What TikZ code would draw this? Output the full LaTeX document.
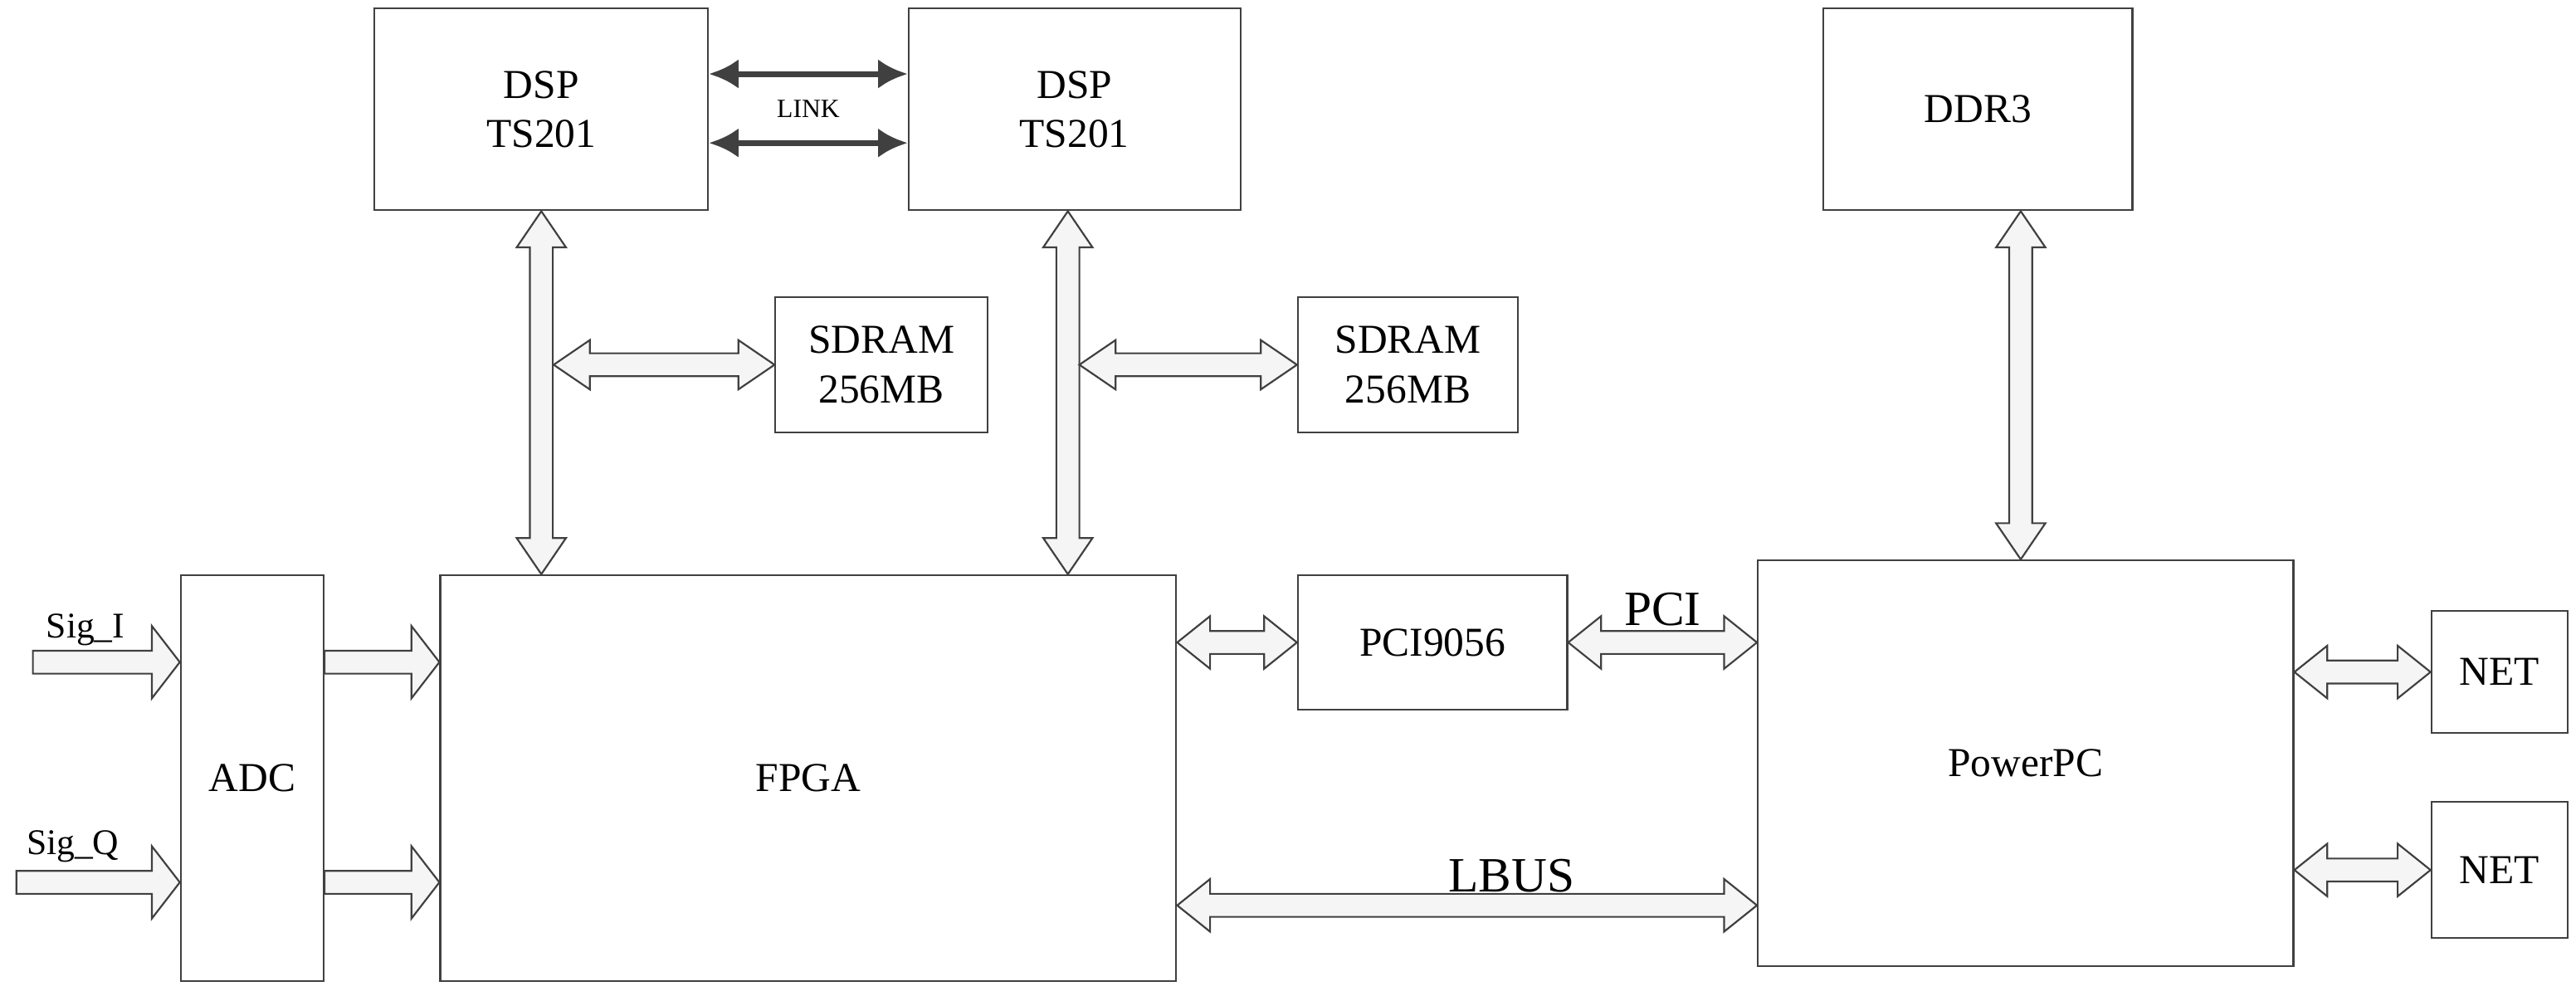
\documentclass[tikz,border=0pt]{standalone}
\usepackage{fontspec}
\setmainfont{Liberation Serif}
\usetikzlibrary{calc}
\tikzset{
  box/.style={draw=black!75, line width=1.1pt, rectangle, inner sep=0pt, align=center, font=\fontsize{25}{30}\selectfont},
  hollow/.style={draw=black!75, line width=1.1pt, fill=black!4, line join=miter},
  link/.style={draw=black!75, line width=3.5pt, -{Latex[length=18pt,width=18pt]}},
}
\usetikzlibrary{arrows.meta}
% double hollow arrow: #1 start, #2 end, #3 head half width, #4 shaft half width, #5 head length
\newcommand\dbl[5]{%
 \coordinate (q1) at (#1); \coordinate (q2) at (#2);
 \coordinate (a1) at ($(q1)!#5!(q2)$); \coordinate (a2) at ($(q2)!#5!(q1)$);
 \draw[hollow] (q1) -- ($(a1)!#3!90:(q2)$) -- ($(a1)!#4!90:(q2)$) -- ($(a2)!#4!-90:(q1)$) -- ($(a2)!#3!-90:(q1)$) -- (q2)
  -- ($(a2)!#3!90:(q1)$) -- ($(a2)!#4!90:(q1)$) -- ($(a1)!#4!-90:(q2)$) -- ($(a1)!#3!-90:(q2)$) -- cycle;}
\newcommand\sgl[5]{%
 \coordinate (q1) at (#1); \coordinate (q2) at (#2);
 \coordinate (a2) at ($(q2)!#5!(q1)$);
 \draw[hollow] ($(q1)!#4!-90:(q2)$) -- ($(a2)!#4!90:(q1)$) -- ($(a2)!#3!90:(q1)$) -- (q2)
  -- ($(a2)!#3!-90:(q1)$) -- ($(a2)!#4!-90:(q1)$) -- ($(q1)!#4!90:(q2)$) -- cycle;}
\begin{document}
\begin{tikzpicture}[x=1pt,y=-1pt]
\useasboundingbox (0,0) rectangle (1568,609);
% boxes
\node[box, minimum width=203pt, minimum height=123pt] (dsp1) at (329.5,66.5) {DSP\\TS201};
\node[box, minimum width=202pt, minimum height=123pt] (dsp2) at (654,66.5) {DSP\\TS201};
\node[box, minimum width=188pt, minimum height=123pt] (ddr) at (1204,66.5) {DDR3};
\node[box, minimum width=129pt, minimum height=82pt] (sd1) at (536.5,222) {SDRAM\\256MB};
\node[box, minimum width=134pt, minimum height=82pt] (sd2) at (857,222) {SDRAM\\256MB};
\node[box, minimum width=87pt, minimum height=247pt] (adc) at (153.5,473.5) {ADC};
\node[box, minimum width=448pt, minimum height=247pt] (fpga) at (492,473.5) {FPGA};
\node[box, minimum width=164pt, minimum height=82pt] (pci) at (872,391) {PCI9056};
\node[box, minimum width=326pt, minimum height=247pt] (ppc) at (1233,464.5) {PowerPC};
\node[box, minimum width=83pt, minimum height=74pt] (net1) at (1521.5,409) {NET};
\node[box, minimum width=83pt, minimum height=83pt] (net2) at (1521.5,529.5) {NET};
% LINK
\draw[link, {Latex[length=18pt,width=18pt]}-{Latex[length=18pt,width=18pt]}] (dsp1.east |- 0,45) -- (dsp2.west |- 0,45);
\draw[link, {Latex[length=18pt,width=18pt]}-{Latex[length=18pt,width=18pt]}] (dsp1.east |- 0,87) -- (dsp2.west |- 0,87);
\node[font=\fontsize{16}{18}\selectfont] (lk) at (492,66) {LINK};
% vertical buses
\dbl{dsp1.south}{dsp1.south |- fpga.north}{15pt}{7pt}{22pt}
\dbl{dsp2.south -| 650,0}{650,0 |- fpga.north}{15pt}{7pt}{22pt}
\dbl{1230,0 |- ddr.south}{1230,0 |- ppc.north}{15pt}{7pt}{22pt}
% SDRAM buses
\dbl{337,222}{sd1.west}{15pt}{7pt}{22pt}
\dbl{657,222}{sd2.west}{15pt}{7pt}{22pt}
% inputs
\coordinate (si) at (20,403);
\coordinate (sq) at (10,537);
\sgl{si}{adc.west |- si}{22pt}{7pt}{17pt}
\sgl{sq}{adc.west |- sq}{22pt}{7pt}{17pt}
\node[anchor=south west, font=\fontsize{22}{26}\selectfont, inner sep=0pt] (lsi) at (28,393) {Sig\_I};
\node[anchor=south west, font=\fontsize{22}{26}\selectfont, inner sep=0pt] (lsq) at (16,525) {Sig\_Q};
\sgl{adc.east |- si}{fpga.west |- si}{22pt}{7pt}{17pt}
\sgl{adc.east |- sq}{fpga.west |- sq}{22pt}{7pt}{17pt}
% right side
\dbl{fpga.east |- pci.west}{pci.west}{16pt}{7pt}{20pt}
\dbl{pci.east}{ppc.west |- pci.east}{16pt}{7pt}{20pt}
\node[font=\fontsize{30}{34}\selectfont] (lpci) at (1012,371) {PCI};
\dbl{fpga.east |- 0,551}{ppc.west |- 0,551}{16pt}{7pt}{20pt}
\node[font=\fontsize{30}{34}\selectfont] (lbus) at (920,533) {LBUS};
\dbl{ppc.east |- net1.west}{net1.west}{16pt}{7pt}{20pt}
\dbl{ppc.east |- net2.west}{net2.west}{16pt}{7pt}{20pt}
\end{tikzpicture}
\end{document}
